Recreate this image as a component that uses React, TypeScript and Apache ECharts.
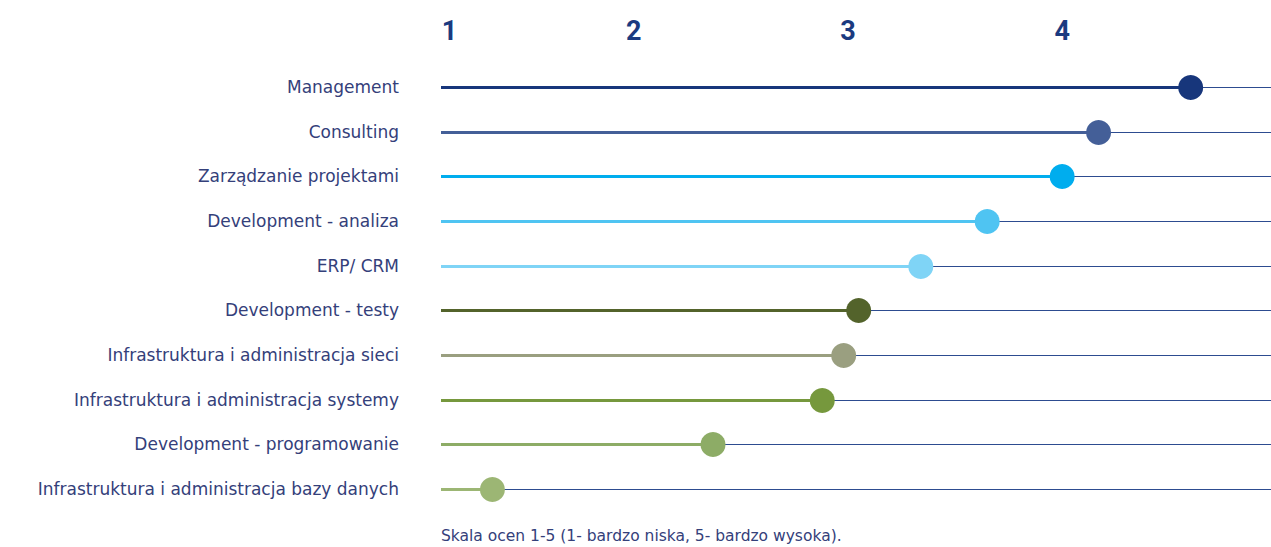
import React, { useEffect, useRef } from "react";
import * as echarts from "echarts";

const categories = [
  "Management",
  "Consulting",
  "Zarządzanie projektami",
  "Development - analiza",
  "ERP/ CRM",
  "Development - testy",
  "Infrastruktura i administracja sieci",
  "Infrastruktura i administracja systemy",
  "Development - programowanie",
  "Infrastruktura i administracja bazy danych",
];
const scores = [4.6, 4.17, 4.0, 3.65, 3.34, 3.05, 2.98, 2.88, 2.37, 1.34];
const rowColors = [
  "#17367b",
  "#445f98",
  "#00adee",
  "#4fc4f2",
  "#7fd4f6",
  "#53632b",
  "#9a9f80",
  "#76983d",
  "#8dac66",
  "#9cb674",
];
const tickValues = [1.14, 2, 3, 4];
const tickLabels = ["1", "2", "3", "4"];
const footnote = "Skala ocen 1-5 (1- bardzo niska, 5- bardzo wysoka).";

const X_MIN = 1.1;
const X_MAX = 4.975;

export default function App() {
  const ref = useRef<HTMLDivElement>(null);
  useEffect(() => {
    const chart = echarts.init(ref.current!, null, { renderer: "svg" });
    const data = scores.map((v, i) => [v, i]);
    chart.setOption({
      animation: false,
      backgroundColor: "#ffffff",
      grid: { left: 441, right: 0, top: 64.7, bottom: 35.7 },
      xAxis: {
        type: "value",
        position: "top",
        min: X_MIN,
        max: X_MAX,
        axisLine: { show: false },
        axisTick: { show: false },
        splitLine: { show: false },
        axisLabel: {
          customValues: tickValues,
          formatter: (v: number) => tickLabels[tickValues.indexOf(v)] ?? "",
          color: "#1b3a80",
          fontFamily: "Roboto",
          fontWeight: "bold",
          fontSize: 27,
          margin: 20,
        },
      },
      yAxis: {
        type: "category",
        inverse: true,
        data: categories,
        axisLine: { show: false },
        axisTick: { show: false },
        splitLine: { show: false },
        axisLabel: {
          color: "#34407a",
          fontFamily: "DejaVu Sans",
          fontSize: 17,
          margin: 42,
        },
      },
      series: [
        {
          type: "custom",
          data,
          encode: { x: 0, y: 1 },
          renderItem: (params: any, api: any) => {
            const v = api.value(0);
            const idx = api.value(1);
            const start = api.coord([X_MIN, idx]);
            const end = api.coord([X_MAX, idx]);
            const p = api.coord([v, idx]);
            const y = Math.round(start[1]) + 0.5;
            const color = rowColors[params.dataIndex];
            return {
              type: "group",
              children: [
                {
                  type: "line",
                  shape: { x1: start[0], y1: y, x2: end[0], y2: y },
                  style: { stroke: "#2d4c90", lineWidth: 1 },
                },
                {
                  type: "line",
                  shape: { x1: start[0], y1: y, x2: p[0], y2: y },
                  style: { stroke: color, lineWidth: 3 },
                },
                {
                  type: "circle",
                  shape: { cx: p[0], cy: y, r: 12.5 },
                  style: { fill: color },
                },
              ],
            };
          },
        },
      ],
      graphic: [
        {
          type: "text",
          left: 441,
          top: 528,
          style: {
            text: footnote,
            fill: "#34407a",
            fontFamily: "DejaVu Sans",
            fontSize: 15.5,
          },
        },
      ],
    });
    return () => chart.dispose();
  }, []);
  return <div ref={ref} style={{ width: 1271, height: 547, position: "absolute", left: 0, top: 0 }} />;
}
